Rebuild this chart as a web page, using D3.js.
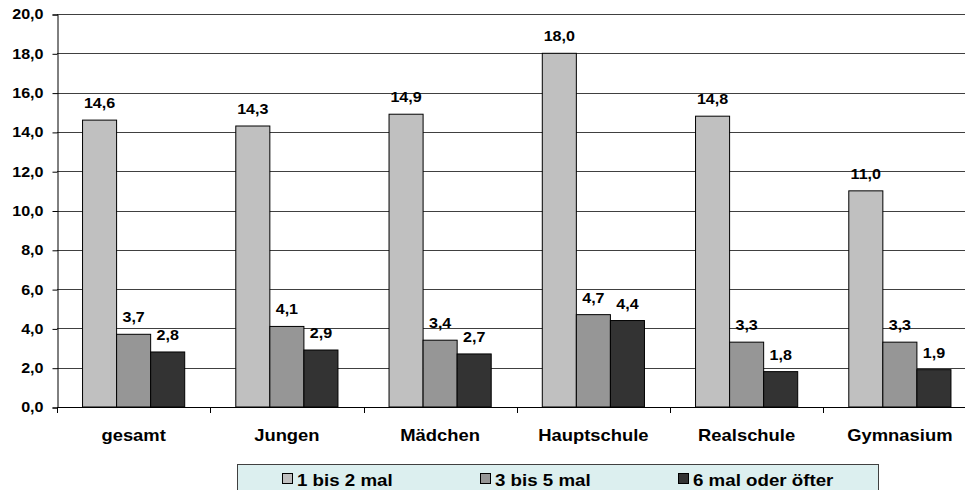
<!DOCTYPE html>
<html><head><meta charset="utf-8">
<script src="https://cdn.jsdelivr.net/npm/d3@7"></script>
<style>body{margin:0;background:#fff}svg{display:block}text{font-family:"Liberation Sans",Arial,sans-serif;font-weight:bold}</style>
</head><body>
<svg id="c" width="965" height="490"></svg>
<script>
const categories = ["gesamt","Jungen","Mädchen","Hauptschule","Realschule","Gymnasium"];
const seriesNames = ["1 bis 2 mal","3 bis 5 mal","6 mal oder öfter"];
const s1 = [14.6,14.3,14.9,18.0,14.8,11.0];
const s2 = [3.7,4.1,3.4,4.7,3.3,3.3];
const s3 = [2.8,2.9,2.7,4.4,1.8,1.9];
const yTicks = [0,2,4,6,8,10,12,14,16,18,20];
const colors = ["#c0c0c0","#969696","#333333"];

const series = [s1,s2,s3];
const svg = d3.select("#c");
const pL = 57, pR = 976.5, pT = 14, pB = 407;
const K = 1.15;
const fmt = v => v.toFixed(1).replace(".", ",");

// horizontally stretched text helper
function stretchText(sel, k) {
  sel.each(function(){
    const t = d3.select(this);
    const x = +t.attr("x") || 0;
    t.attr("x", x / k).attr("transform", `scale(${k},1)`);
  });
}

const y = d3.scaleLinear().domain([0,20]).range([pB, pT]);
const x0 = d3.scaleBand().domain(categories).range([pL, pR]).padding(0);
const bw = x0.bandwidth();
const x1 = d3.scaleBand().domain(d3.range(3)).range([bw/6, bw*5/6]).padding(0);

// gridlines
svg.append("g").selectAll("line").data(yTicks).join("line")
  .attr("x1", pL).attr("x2", pR)
  .attr("y1", d => Math.round(y(d))+0.5).attr("y2", d => Math.round(y(d))+0.5)
  .attr("stroke", "#404040").attr("stroke-width", 1);

// y axis
const ya = svg.append("g").attr("transform", `translate(${pL+0.5},0.5)`)
  .call(d3.axisLeft(y).tickValues(yTicks).tickFormat(fmt).tickSize(5).tickPadding(9));
ya.selectAll("path,line").attr("stroke","#000");
ya.selectAll("text").attr("font-size", 14).attr("fill","#000")
  .style("font-family",'"Liberation Sans",Arial,sans-serif').style("font-weight","bold");
stretchText(ya.selectAll("text"), K);

// x axis
const xa = svg.append("g").attr("transform", `translate(0,${pB+0.5})`)
  .call(d3.axisBottom(x0).tickSize(0).tickPadding(0).tickFormat(""));
xa.selectAll("path").attr("stroke","#000").attr("d", `M${pL},0H${pR}`);
xa.selectAll(".tick").remove();
svg.append("g").selectAll("line").data(d3.range(categories.length+1)).join("line")
  .attr("x1", i => Math.round(pL + i*bw)+0.5).attr("x2", i => Math.round(pL + i*bw)+0.5)
  .attr("y1", pB).attr("y2", pB+6).attr("stroke","#000");
const catText = svg.append("g").selectAll("text").data(categories).join("text")
  .attr("x", d => x0(d) + bw/2).attr("y", 441).attr("text-anchor","middle")
  .attr("font-size", 16).attr("fill","#000").text(d => d);
stretchText(catText, K);

// bars
const groups = svg.append("g").selectAll("g").data(categories).join("g")
  .attr("transform", d => `translate(${x0(d)},0)`);
groups.each(function(cat, ci){
  const g = d3.select(this);
  series.forEach((s, si) => {
    g.append("rect").attr("x", x1(si)).attr("width", x1.bandwidth())
      .attr("y", y(s[ci])).attr("height", pB - y(s[ci]))
      .attr("fill", colors[si]).attr("stroke","#000").attr("stroke-width",1);
    const t = g.append("text").attr("x", x1(si) + x1.bandwidth()/2).attr("y", y(s[ci]) - 12)
      .attr("text-anchor","middle").attr("font-size",14).attr("fill","#000").text(fmt(s[ci]));
    stretchText(t, K);
  });
});

// legend
const lg = svg.append("g");
lg.append("rect").attr("x",237.5).attr("y",464.5).attr("width",641).attr("height",40)
  .attr("fill","#dcefef").attr("stroke","#404040").attr("stroke-width",1);
seriesNames.forEach((n,i) => {
  const lx = 282 + i*198;
  lg.append("rect").attr("x", lx+0.5).attr("y", 473.5).attr("width",10).attr("height",10)
    .attr("fill", colors[i]).attr("stroke","#000").attr("stroke-width",1);
  const t = lg.append("text").attr("x", lx+15).attr("y", 486).attr("font-size",16).attr("fill","#000").text(n);
  stretchText(t, 1.17);
});
</script>
</body></html>
